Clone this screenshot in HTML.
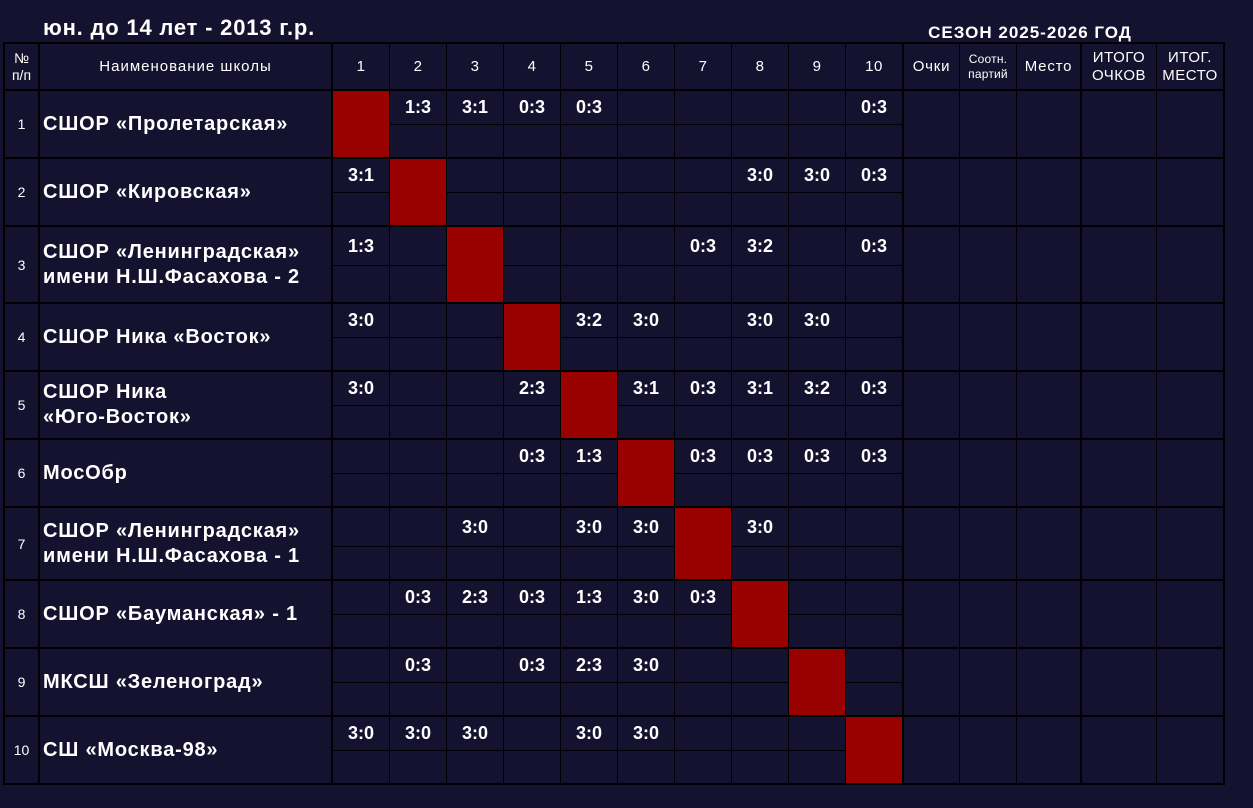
<!DOCTYPE html>
<html><head><meta charset="utf-8">
<style>
*{margin:0;padding:0;box-sizing:border-box}
body{width:1253px;height:808px;background:#14122e;overflow:hidden;font-family:"Liberation Sans","Noto Sans CJK SC",sans-serif;color:#fff}
#c{position:relative;width:1253px;height:808px;background:#14122e}
.l{position:absolute;background:#000}
.hl{left:3px;width:1222px;height:2px}
.vl{top:42px;height:743px}
.sp{left:333px;width:569px;height:1px}
.red{position:absolute;background:#990000;width:56px}
.s{position:absolute;width:56px;display:flex;align-items:center;justify-content:center;font-weight:bold;font-size:18px;letter-spacing:0;white-space:nowrap}
.c1{left:333px}.c2{left:390px}.c3{left:447px}.c4{left:504px}.c5{left:561px}
.c6{left:618px}.c7{left:675px}.c8{left:732px}.c9{left:789px}.c10{left:846px}
.r1{top:91px;height:33px}.r2{top:159px;height:33px}.r3{top:227px;height:38px}
.r4{top:304px;height:33px}.r5{top:372px;height:33px}.r6{top:440px;height:33px}
.r7{top:508px;height:38px}.r8{top:581px;height:33px}.r9{top:649px;height:33px}
.r10{top:717px;height:33px}
.R1{top:91px;height:66px}.R2{top:159px;height:66px}.R3{top:227px;height:75px}
.R4{top:304px;height:66px}.R5{top:372px;height:66px}.R6{top:440px;height:66px}
.R7{top:508px;height:71px}.R8{top:581px;height:66px}.R9{top:649px;height:66px}
.R10{top:717px;height:66px}
.num{position:absolute;left:5px;width:33px;display:flex;align-items:center;justify-content:center;font-size:14px}
.nm{position:absolute;left:43px;width:286px;display:flex;align-items:center;font-weight:bold;font-size:20px;letter-spacing:0.8px;line-height:25px;white-space:nowrap}
.h{position:absolute;top:44px;height:45px;display:flex;align-items:center;justify-content:center;text-align:center;font-size:15px;letter-spacing:0.5px;line-height:18px;white-space:nowrap}
</style></head><body><div id="c">

<div style="position:absolute;left:43px;top:17px;font-weight:bold;font-size:22px;line-height:22px;letter-spacing:0.8px;white-space:nowrap">юн. до 14 лет - 2013 г.р.</div>
<div style="position:absolute;left:900px;width:260px;top:24px;text-align:center;font-weight:bold;font-size:17px;line-height:17px;letter-spacing:1px;white-space:nowrap">СЕЗОН 2025-2026 ГОД</div>

<!-- split lines -->
<div class="l sp" style="top:124px"></div>
<div class="l sp" style="top:192px"></div>
<div class="l sp" style="top:265px"></div>
<div class="l sp" style="top:337px"></div>
<div class="l sp" style="top:405px"></div>
<div class="l sp" style="top:473px"></div>
<div class="l sp" style="top:546px"></div>
<div class="l sp" style="top:614px"></div>
<div class="l sp" style="top:682px"></div>
<div class="l sp" style="top:750px"></div>

<!-- red diagonal -->
<div class="red c1 R1"></div>
<div class="red c2 R2"></div>
<div class="red c3 R3"></div>
<div class="red c4 R4"></div>
<div class="red c5 R5"></div>
<div class="red c6 R6"></div>
<div class="red c7 R7"></div>
<div class="red c8 R8"></div>
<div class="red c9 R9"></div>
<div class="red c10 R10"></div>

<!-- horizontal lines -->
<div class="l hl" style="top:42px"></div>
<div class="l hl" style="top:89px"></div>
<div class="l hl" style="top:157px"></div>
<div class="l hl" style="top:225px"></div>
<div class="l hl" style="top:302px"></div>
<div class="l hl" style="top:370px"></div>
<div class="l hl" style="top:438px"></div>
<div class="l hl" style="top:506px"></div>
<div class="l hl" style="top:579px"></div>
<div class="l hl" style="top:647px"></div>
<div class="l hl" style="top:715px"></div>
<div class="l hl" style="top:783px"></div>

<!-- vertical lines -->
<div class="l vl" style="left:3px;width:2px"></div>
<div class="l vl" style="left:38px;width:2px"></div>
<div class="l vl" style="left:331px;width:2px"></div>
<div class="l vl" style="left:389px;width:1px"></div>
<div class="l vl" style="left:446px;width:1px"></div>
<div class="l vl" style="left:503px;width:1px"></div>
<div class="l vl" style="left:560px;width:1px"></div>
<div class="l vl" style="left:617px;width:1px"></div>
<div class="l vl" style="left:674px;width:1px"></div>
<div class="l vl" style="left:731px;width:1px"></div>
<div class="l vl" style="left:788px;width:1px"></div>
<div class="l vl" style="left:845px;width:1px"></div>
<div class="l vl" style="left:902px;width:2px"></div>
<div class="l vl" style="left:959px;width:1px"></div>
<div class="l vl" style="left:1016px;width:1px"></div>
<div class="l vl" style="left:1080px;width:2px"></div>
<div class="l vl" style="left:1156px;width:1px"></div>
<div class="l vl" style="left:1223px;width:2px"></div>

<!-- header -->
<div class="h" style="left:5px;width:33px;font-size:14px;line-height:17px;letter-spacing:0">№<br>п/п</div>
<div class="h" style="left:40px;width:291px;letter-spacing:1px">Наименование школы</div>
<div class="h c1" style="width:56px">1</div>
<div class="h c2" style="width:56px">2</div>
<div class="h c3" style="width:56px">3</div>
<div class="h c4" style="width:56px">4</div>
<div class="h c5" style="width:56px">5</div>
<div class="h c6" style="width:56px">6</div>
<div class="h c7" style="width:56px">7</div>
<div class="h c8" style="width:56px">8</div>
<div class="h c9" style="width:56px">9</div>
<div class="h c10" style="width:56px">10</div>
<div class="h" style="left:904px;width:55px;letter-spacing:0.8px">Очки</div>
<div class="h" style="left:960px;width:56px;font-size:12px;line-height:15px;letter-spacing:0.2px">Соотн.<br>партий</div>
<div class="h" style="left:1017px;width:63px;letter-spacing:0.8px">Место</div>
<div class="h" style="left:1082px;width:74px">ИТОГО<br>ОЧКОВ</div>
<div class="h" style="left:1157px;width:66px">ИТОГ.<br>МЕСТО</div>

<!-- row numbers -->
<div class="num R1">1</div>
<div class="num R2">2</div>
<div class="num R3">3</div>
<div class="num R4">4</div>
<div class="num R5">5</div>
<div class="num R6">6</div>
<div class="num R7">7</div>
<div class="num R8">8</div>
<div class="num R9">9</div>
<div class="num R10">10</div>

<!-- names -->
<div class="nm R1">СШОР «Пролетарская»</div>
<div class="nm R2">СШОР «Кировская»</div>
<div class="nm R3">СШОР «Ленинградская»<br>имени Н.Ш.Фасахова - 2</div>
<div class="nm R4">СШОР Ника «Восток»</div>
<div class="nm R5">СШОР Ника<br>«Юго-Восток»</div>
<div class="nm R6">МосОбр</div>
<div class="nm R7">СШОР «Ленинградская»<br>имени Н.Ш.Фасахова - 1</div>
<div class="nm R8">СШОР «Бауманская» - 1</div>
<div class="nm R9">МКСШ «Зеленоград»</div>
<div class="nm R10">СШ «Москва-98»</div>

<!-- scores row 1 -->
<div class="s r1 c2">1:3</div>
<div class="s r1 c3">3:1</div>
<div class="s r1 c4">0:3</div>
<div class="s r1 c5">0:3</div>
<div class="s r1 c10">0:3</div>
<!-- row 2 -->
<div class="s r2 c1">3:1</div>
<div class="s r2 c8">3:0</div>
<div class="s r2 c9">3:0</div>
<div class="s r2 c10">0:3</div>
<!-- row 3 -->
<div class="s r3 c1">1:3</div>
<div class="s r3 c7">0:3</div>
<div class="s r3 c8">3:2</div>
<div class="s r3 c10">0:3</div>
<!-- row 4 -->
<div class="s r4 c1">3:0</div>
<div class="s r4 c5">3:2</div>
<div class="s r4 c6">3:0</div>
<div class="s r4 c8">3:0</div>
<div class="s r4 c9">3:0</div>
<!-- row 5 -->
<div class="s r5 c1">3:0</div>
<div class="s r5 c4">2:3</div>
<div class="s r5 c6">3:1</div>
<div class="s r5 c7">0:3</div>
<div class="s r5 c8">3:1</div>
<div class="s r5 c9">3:2</div>
<div class="s r5 c10">0:3</div>
<!-- row 6 -->
<div class="s r6 c4">0:3</div>
<div class="s r6 c5">1:3</div>
<div class="s r6 c7">0:3</div>
<div class="s r6 c8">0:3</div>
<div class="s r6 c9">0:3</div>
<div class="s r6 c10">0:3</div>
<!-- row 7 -->
<div class="s r7 c3">3:0</div>
<div class="s r7 c5">3:0</div>
<div class="s r7 c6">3:0</div>
<div class="s r7 c8">3:0</div>
<!-- row 8 -->
<div class="s r8 c2">0:3</div>
<div class="s r8 c3">2:3</div>
<div class="s r8 c4">0:3</div>
<div class="s r8 c5">1:3</div>
<div class="s r8 c6">3:0</div>
<div class="s r8 c7">0:3</div>
<!-- row 9 -->
<div class="s r9 c2">0:3</div>
<div class="s r9 c4">0:3</div>
<div class="s r9 c5">2:3</div>
<div class="s r9 c6">3:0</div>
<!-- row 10 -->
<div class="s r10 c1">3:0</div>
<div class="s r10 c2">3:0</div>
<div class="s r10 c3">3:0</div>
<div class="s r10 c5">3:0</div>
<div class="s r10 c6">3:0</div>

</div></body></html>
